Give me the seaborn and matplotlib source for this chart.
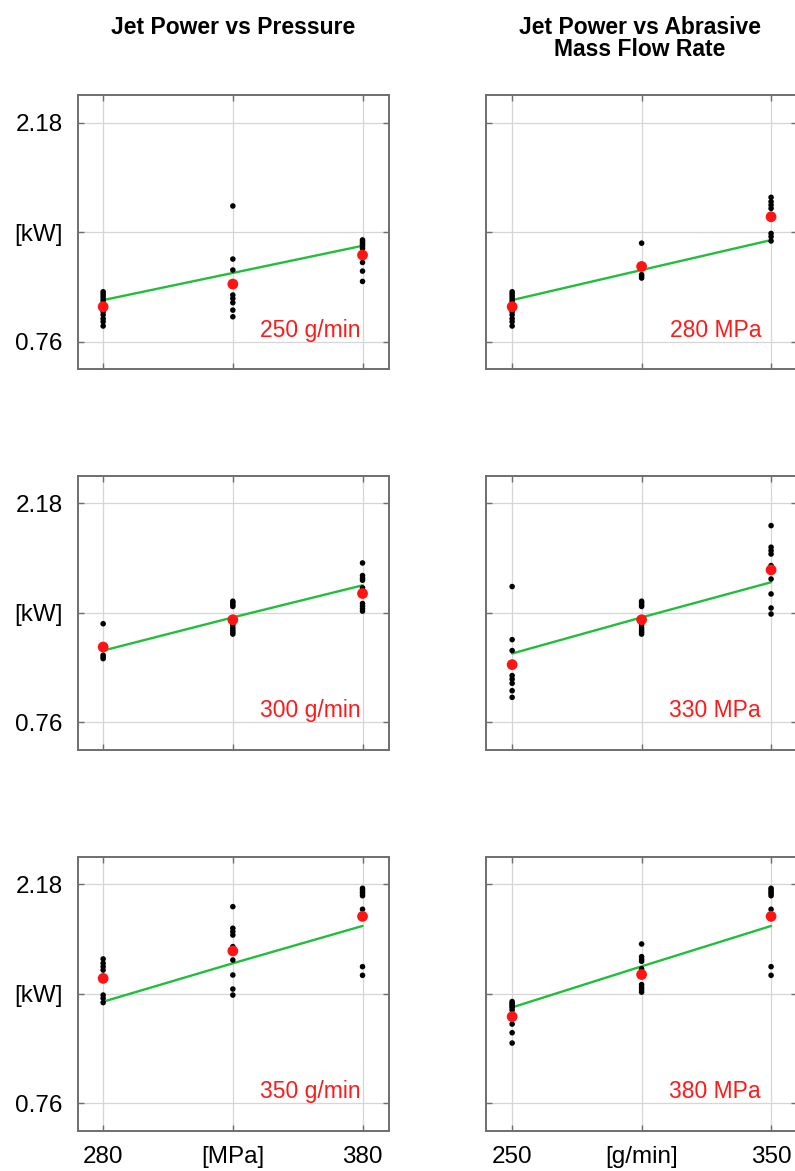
import matplotlib
matplotlib.use("Agg")
import matplotlib.pyplot as plt
import pandas as pd
import seaborn as sns

# Test conditions
pressures = [280, 330, 380]      # MPa
flow_rates = [250, 300, 350]     # g/min

# Measured jet power [kW] for every (pressure, flow rate) condition
p280_m250 = [1.084, 1.07, 1.055, 1.04, 1.025, 1.00, 0.975, 0.955, 0.935, 0.91, 0.89, 0.862]
p330_m250 = [1.64, 1.296, 1.225, 1.063, 1.04, 1.013, 0.965, 0.922]
p380_m250 = [1.42, 1.41, 1.40, 1.39, 1.38, 1.365, 1.33, 1.31, 1.274, 1.218, 1.151]
p280_m300 = [1.399, 1.26, 1.24, 1.195, 1.185, 1.173]
p330_m300 = [1.545, 1.535, 1.522, 1.511, 1.425, 1.391, 1.373, 1.358, 1.345, 1.332]
p380_m300 = [1.793, 1.711, 1.694, 1.681, 1.632, 1.595, 1.530, 1.513, 1.498, 1.481]
p280_m350 = [1.696, 1.668, 1.646, 1.624, 1.570, 1.462, 1.441, 1.413]
p330_m350 = [2.035, 1.895, 1.873, 1.851, 1.776, 1.748, 1.689, 1.592, 1.501, 1.462]
p380_m350 = [2.154, 2.143, 2.13, 2.12, 2.106, 2.018, 1.972, 1.646, 1.59]

# Mean values (red) and model prediction (green); rows = flow rate, cols = pressure
mean_power = [[0.987, 1.134, 1.322],
              [1.248, 1.425, 1.595],
              [1.570, 1.748, 1.972]]
model_power = [[1.030, 1.206, 1.382],
               [1.225, 1.440, 1.648],
               [1.419, 1.668, 1.910]]

samples = {(280, 250): p280_m250, (330, 250): p330_m250, (380, 250): p380_m250,
           (280, 300): p280_m300, (330, 300): p330_m300, (380, 300): p380_m300,
           (280, 350): p280_m350, (330, 350): p330_m350, (380, 350): p380_m350}

rows = []
for (p, m), vals in samples.items():
    for v in vals:
        rows.append({"pressure": p, "flow": m, "power": v})
df = pd.DataFrame(rows)

means = pd.DataFrame([{"pressure": p, "flow": m, "power": mean_power[j][i]}
                      for j, m in enumerate(flow_rates) for i, p in enumerate(pressures)])
model = pd.DataFrame([{"pressure": p, "flow": m, "power": model_power[j][i]}
                      for j, m in enumerate(flow_rates) for i, p in enumerate(pressures)])

sns.set_theme(style="whitegrid")
plt.rcParams["font.family"] = ["Liberation Sans", "DejaVu Sans"]

fig = plt.figure(figsize=(7.95, 11.71), dpi=100)

spine_col = "#6e6e6e"
bottoms = [0.6847, 0.3597, 0.0343]
h = 0.234
lefts = [0.0981, 0.6113]
w = 0.3915

for r in range(3):
    for c in range(2):
        ax = fig.add_axes([lefts[c], bottoms[r], w, h])
        if c == 0:
            m = flow_rates[r]
            sel = lambda d: d[d["flow"] == m]
            xcol = "pressure"
            xlim = (270.3, 390.3)
            xt = pressures
            xlabels = ["280", "[MPa]", "380"]
            label = f"{m} g/min"
            lx = 0.909
        else:
            p = pressures[r]
            sel = lambda d: d[d["pressure"] == p]
            xcol = "flow"
            xlim = (239.9, 360.1)
            xt = flow_rates
            xlabels = ["250", "[g/min]", "350"]
            label = f"{p} MPa"
            lx = 0.884

        sns.lineplot(data=sel(model), x=xcol, y="power", color="#1fbf3a", lw=1.7, ax=ax, zorder=3)
        sns.scatterplot(data=sel(df), x=xcol, y="power", color="black", s=16,
                        edgecolor="none", ax=ax, zorder=4)
        sns.scatterplot(data=sel(means), x=xcol, y="power", color="#ff1414", s=60,
                        edgecolor="none", ax=ax, zorder=5)

        ax.set_xlim(*xlim)
        ax.set_ylim(0.582, 2.358)
        ax.set_xticks(xt)
        ax.set_yticks([0.76, 1.47, 2.18])
        if r == 2:
            ax.set_xticklabels(xlabels)
        else:
            ax.set_xticklabels([])
        if c == 0:
            ax.set_yticklabels(["0.76", "[kW]", "2.18"])
        else:
            ax.set_yticklabels([])
        ax.set_xlabel("")
        ax.set_ylabel("")
        ax.grid(True, color="#d6d6d6", lw=0.9)
        ax.tick_params(direction="in", length=4, width=1, color=spine_col,
                       top=True, right=True, bottom=True, left=True,
                       labelsize=17.5, labelcolor="black")
        ax.tick_params(axis="x", pad=11)
        ax.tick_params(axis="y", pad=11)
        for s in ax.spines.values():
            s.set_color(spine_col)
            s.set_linewidth(1.4)
        ax.text(lx, 0.142, label, transform=ax.transAxes, ha="right", va="center",
                color="#ff1a1a", fontsize=16.5)

title_kw = dict(ha="center", va="center", fontsize=16.5, fontweight="bold", color="black")
fig.text(0.293, 1 - 27 / 1171, "Jet Power vs Pressure", **title_kw)
fig.text(0.805, 1 - 27 / 1171, "Jet Power vs Abrasive", **title_kw)
fig.text(0.805, 1 - 49 / 1171, "Mass Flow Rate", **title_kw)

fig.savefig("out.png", dpi=100)
